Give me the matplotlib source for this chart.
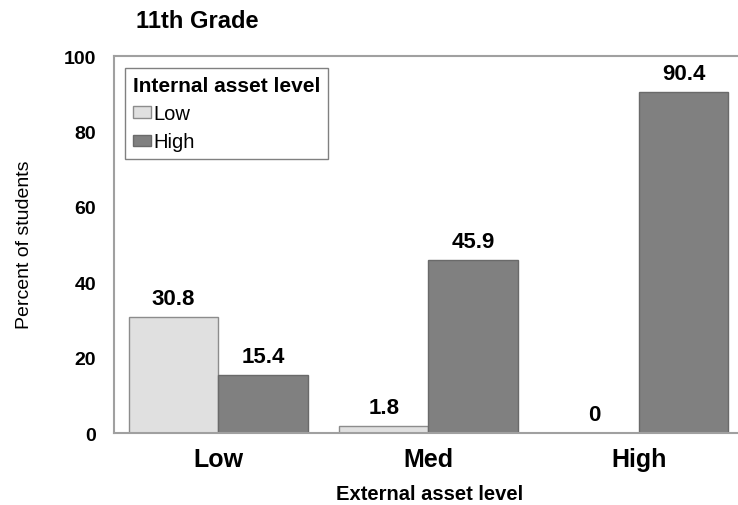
import numpy as np
import matplotlib
matplotlib.use("Agg")
import matplotlib.pyplot as plt

plt.rcParams['font.family'] = ['Liberation Sans', 'DejaVu Sans']

groups = ["Low", "Med", "High"]
low_vals = [30.8, 1.8, 0]
high_vals = [15.4, 45.9, 90.4]
low_labels = ["30.8", "1.8", "0"]
high_labels = ["15.4", "45.9", "90.4"]
yticks = [0, 20, 40, 60, 80, 100]

fig = plt.figure(figsize=(7.38, 5.06), dpi=100)
ax = fig.add_axes([0.1545, 0.142, 0.845, 0.745])

x = np.arange(len(groups))
w = 0.425
ax.bar(x - w / 2, low_vals, w, color='#e0e0e0', edgecolor='#8c8c8c', linewidth=1, label='Low')
ax.bar(x + w / 2, high_vals, w, color='#808080', edgecolor='#6a6a6a', linewidth=1, label='High')

# value labels above the bars
for xi, v, t in zip(x - w / 2, low_vals, low_labels):
    ax.text(xi, v + 2.2, t, ha='center', va='bottom', fontsize=16, fontweight='bold')
for xi, v, t in zip(x + w / 2, high_vals, high_labels):
    ax.text(xi, v + 2.2, t, ha='center', va='bottom', fontsize=16, fontweight='bold')

ax.set_xlim(-0.495, 2.47)
ax.set_ylim(0, 100)
ax.set_yticks(yticks)
ax.set_yticklabels([str(t) for t in yticks], fontsize=14, fontweight='bold')
ax.set_xticks(x)
ax.set_xticklabels(groups, fontsize=18, fontweight='bold')
ax.tick_params(axis='both', length=0)
ax.tick_params(axis='y', pad=13)
ax.tick_params(axis='x', pad=10)

for s in ['left', 'top', 'bottom']:
    ax.spines[s].set_color('#a0a0a0')
    ax.spines[s].set_linewidth(1.5)
ax.spines['right'].set_visible(False)

fig.text(0.582, 0.022, 'External asset level', fontsize=14.5, fontweight='bold', ha='center', va='center')
fig.text(0.033, 0.516, 'Percent of students', fontsize=14, rotation=90, ha='center', va='center')
fig.text(0.184, 0.958, '11th Grade', fontsize=17, fontweight='bold', ha='left', va='center')

leg = ax.legend(title='Internal asset level', loc='upper left', bbox_to_anchor=(0.0176, 0.968),
                borderaxespad=0, fontsize=14.5, title_fontproperties={'weight': 'bold', 'size': 15},
                fancybox=False, edgecolor='#808080', framealpha=1,
                handlelength=0.9, handleheight=0.5, handletextpad=0.1,
                borderpad=0.4, labelspacing=0.45, alignment='left')
leg.get_frame().set_linewidth(1)

fig.savefig('out.png', dpi=100)
